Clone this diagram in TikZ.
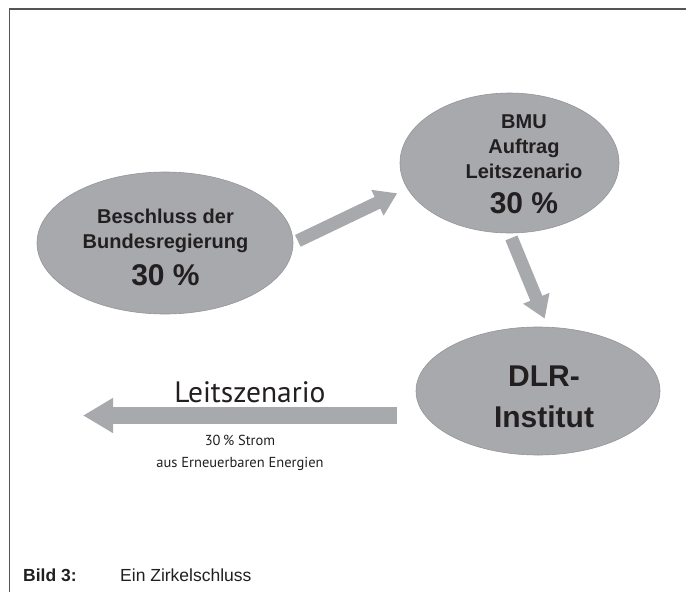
\documentclass[tikz,border=0pt]{standalone}
\usepackage{fontspec}
\setmainfont{Liberation Sans}
\newfontfamily\myriad{PT Sans}
\usetikzlibrary{shapes.geometric,arrows.meta,calc}
\definecolor{blobgray}{RGB}{167,169,172}
\definecolor{blobedge}{RGB}{148,149,152}
\definecolor{textdark}{RGB}{35,31,32}
\definecolor{framegray}{RGB}{85,85,85}

\begin{document}
\begin{tikzpicture}[x=1pt,y=-1pt,
    blob/.style={ellipse, fill=blobgray, draw=blobedge, line width=0.6pt},
    blobtext/.style={anchor=base, inner sep=0pt, text=textdark, align=center,
      font=\bfseries\fontsize{20}{25}\selectfont},
    bigarrow/.style={draw=blobgray, line width=13pt,
      -{Triangle[width=27pt,length=22pt]}},
    caption/.style={anchor=base west, inner sep=0pt, text=textdark,
      font=\fontsize{17.5}{20}\selectfont}]
  \useasboundingbox (0,0) rectangle (686,592);

  % Rahmen
  \draw[framegray, line width=1.4pt] (686,9) -- (9.5,9) -- (9.5,592);

  % Ellipsen
  \node[blob, minimum width=256pt, minimum height=142pt] (beschluss) at (165,243) {};
  \node[blob, minimum width=219pt, minimum height=140pt] (bmu) at (509.5,163) {};
  \node[blob, minimum width=244pt, minimum height=128pt] (dlr) at (538,391) {};

  % Texte in den Ellipsen (Grundlinie der letzten Zeile)
  \node[blobtext] (beschlusstext) at (165.5,285)
    {Beschluss der\\Bundesregierung\\[10pt]{\fontsize{30}{30}\selectfont 30 \%}};
  \node[blobtext] (bmutext) at (524,213)
    {BMU\\Auftrag\\Leitszenario\\[10pt]{\fontsize{30}{30}\selectfont 30 \%}};
  \node[blobtext, font=\bfseries\fontsize{30}{41}\selectfont] (dlrtext) at (544,427)
    {DLR-\\Institut};

  % Pfeile
  \draw[bigarrow, shorten <=5pt, shorten >=11pt] (beschluss.east) -- (bmu.194);
  \draw[bigarrow, shorten <=5pt, shorten >=9pt] (bmu.south) -- (dlr.81);
  \coordinate (links) at (83,415.5);
  \draw[bigarrow, line width=17pt, -{Triangle[width=33pt,length=30pt]}]
    ($(dlr.west |- links)+(-19,0)$) -- (links);

  % Beschriftung am Pfeil
  \node[anchor=base, inner sep=0pt, text=textdark,
    font=\myriad\fontsize{29.5}{29.5}\selectfont] (leit) at (250,402) {Leitszenario};
  \node[anchor=base, inner sep=0pt, text=textdark, align=center,
    font=\myriad\fontsize{14.5}{22}\selectfont] (strom) at (240,467)
    {30\,\% Strom\\aus Erneuerbaren Energien};

  % Bildunterschrift
  \node[caption, font=\bfseries\fontsize{17.5}{20}\selectfont] (bild) at (23,581) {Bild 3:};
  \node[caption] (titel) at (120,581) {Ein Zirkelschluss};
\end{tikzpicture}
\end{document}
